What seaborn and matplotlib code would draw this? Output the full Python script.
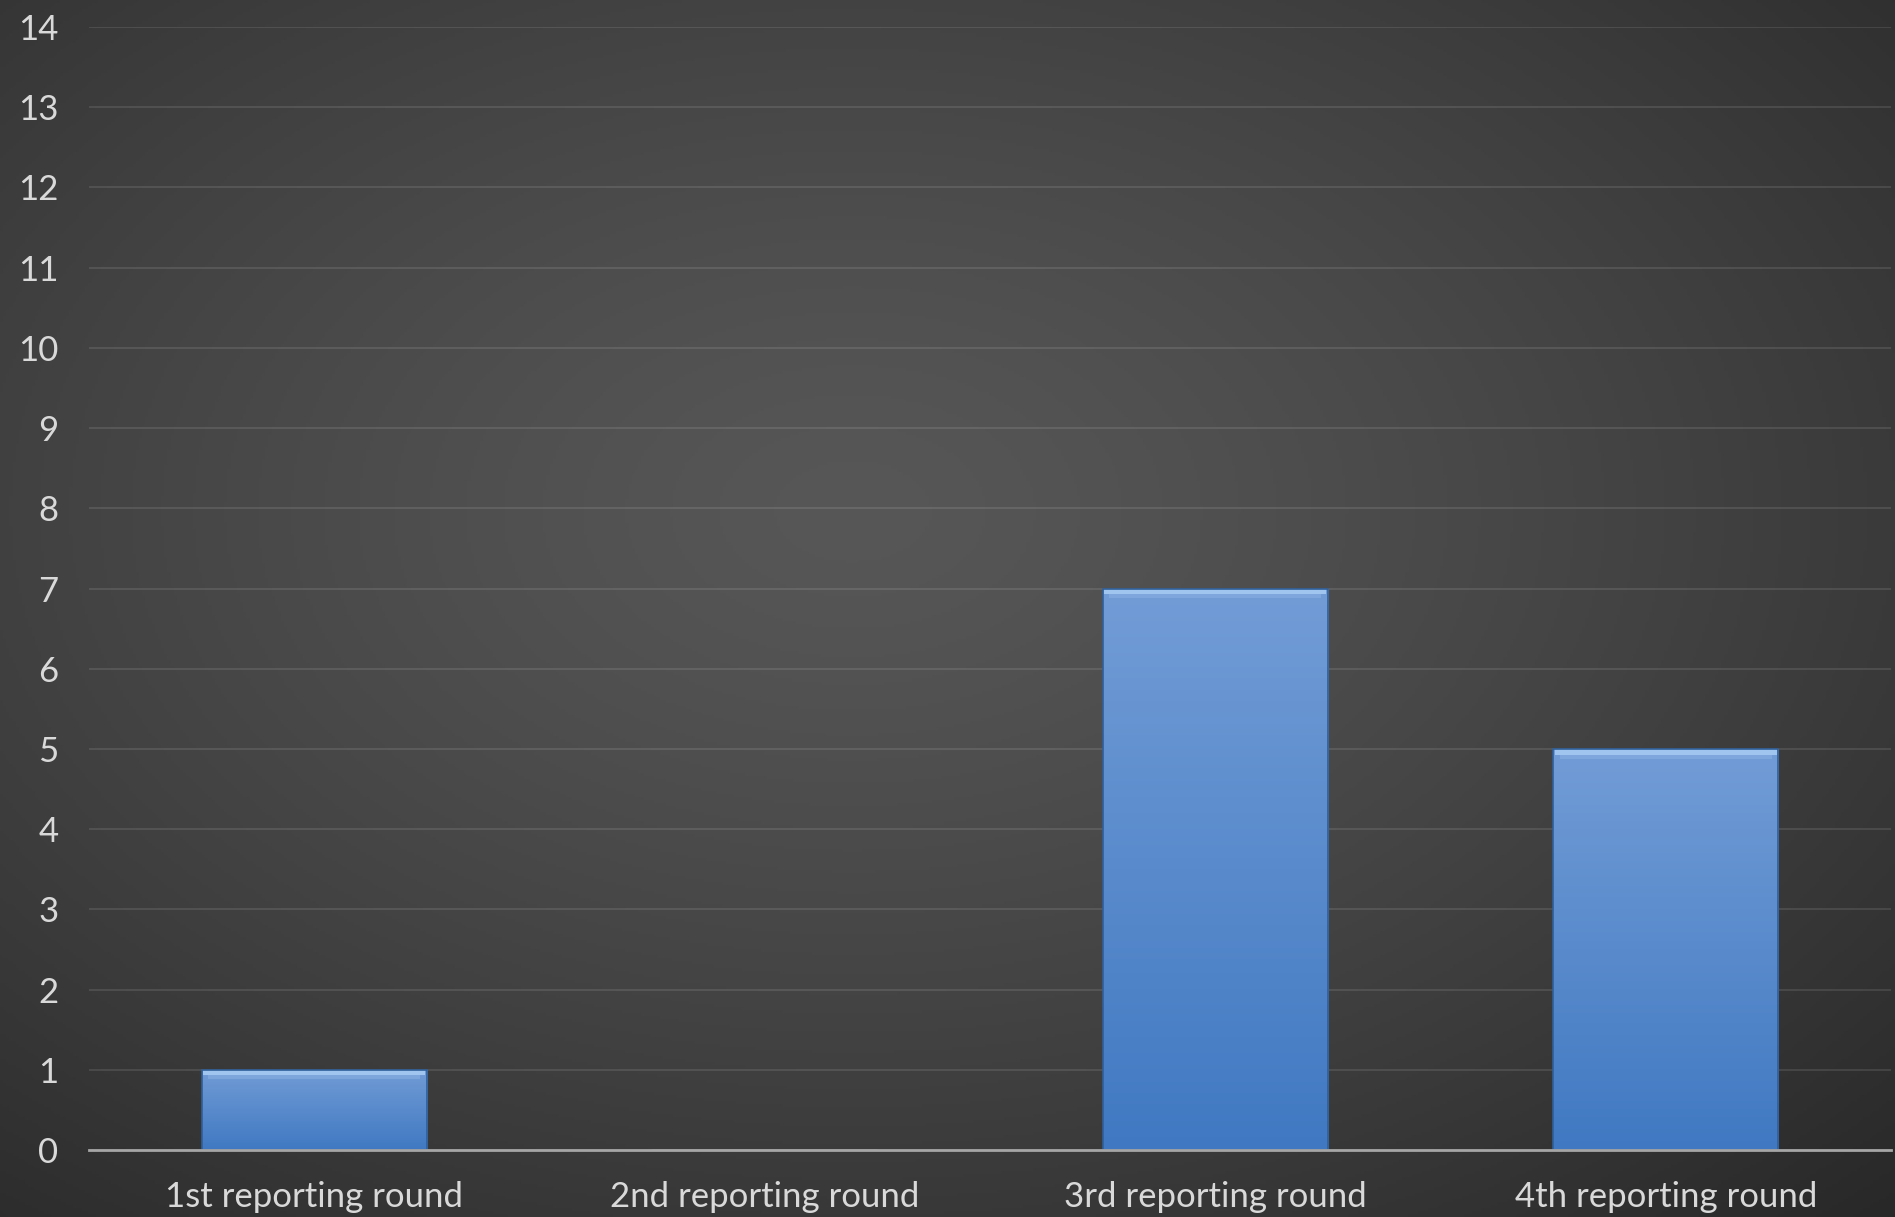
import numpy as np
import matplotlib
matplotlib.use('Agg')
import matplotlib.pyplot as plt
import seaborn as sns
import pandas as pd

# data
categories = ['1st reporting round', '2nd reporting round', '3rd reporting round', '4th reporting round']
counts = [1, 0, 7, 5]
y_ticks = list(range(0, 15))

sns.set_style('dark')
plt.rcParams['font.family'] = ['Lato', 'DejaVu Sans']

fig = plt.figure(figsize=(18.95, 12.17), dpi=100)

# radial grey background
bg = fig.add_axes([0, 0, 1, 1], zorder=0)
yy, xx = np.mgrid[0:1:400j, 0:1:600j]
r = np.sqrt(((xx - 0.45) / 0.85) ** 2 + ((yy - 0.42) / 0.85) ** 2)
r = np.clip(r, 0, 1) ** 1.3
c0 = np.array([0x57, 0x57, 0x57]) / 255
c1 = np.array([0x24, 0x24, 0x24]) / 255
img = c0[None, None, :] * (1 - r[..., None]) + c1[None, None, :] * r[..., None]
bg.imshow(img, extent=[0, 1, 0, 1], aspect='auto', origin='upper')
bg.axis('off')

ax = fig.add_axes([89 / 1895, 1 - 1150 / 1217, 1802 / 1895, 1123 / 1217], zorder=1)
ax.set_facecolor('none')

data = pd.DataFrame({'round': categories, 'count': counts})
sns.barplot(data=data, x='round', y='count', color='#5b8fd0', width=0.5,
            saturation=1, ax=ax, zorder=3)

# gradient fill and bevel on each bar
grad = np.linspace(0, 1, 256)[:, None]
top_c = np.array([0x72, 0x9c, 0xd6]) / 255
bot_c = np.array([0x40, 0x79, 0xc2]) / 255
bar_img = top_c[None, None, :] * (1 - grad[..., None]) + bot_c[None, None, :] * grad[..., None]
bar_img = np.repeat(bar_img, 4, axis=1)
for p in ax.patches:
    h = p.get_height()
    if h <= 0:
        continue
    x0 = p.get_x()
    w = p.get_width()
    p.set_facecolor('none')
    p.set_edgecolor('#2f5f9a')
    p.set_linewidth(1.2)
    im = ax.imshow(bar_img, extent=[x0, x0 + w, 0, h], aspect='auto',
                   origin='upper', zorder=2.5)
    im.set_clip_path(p)
    # light bevel at top
    ax.fill_between([x0 + 0.004, x0 + w - 0.004], h - 0.07, h,
                    color='#a9cdf3', alpha=0.85, lw=0, zorder=2.7)
    ax.fill_between([x0 + 0.015, x0 + w - 0.015], h - 0.12, h - 0.07,
                    color='#8db4e6', alpha=0.5, lw=0, zorder=2.7)

ax.set_xlim(-0.5, 3.5)
ax.set_ylim(0, 14)
ax.set_yticks(y_ticks)
ax.set_yticklabels([str(t) for t in y_ticks])
ax.set_xlabel('')
ax.set_ylabel('')
ax.yaxis.grid(True, color='white', alpha=0.1, lw=1.5, zorder=0)
ax.xaxis.grid(False)
for s in ['top', 'right', 'left']:
    ax.spines[s].set_visible(False)
ax.spines['bottom'].set_color('#a6a6a6')
ax.spines['bottom'].set_linewidth(2)
ax.spines['bottom'].set_zorder(4)
ax.tick_params(axis='both', length=0, colors='#d9d9d9', labelsize=25)
ax.tick_params(axis='y', pad=22)
ax.tick_params(axis='x', pad=22)

fig.savefig('out.png', dpi=100)
